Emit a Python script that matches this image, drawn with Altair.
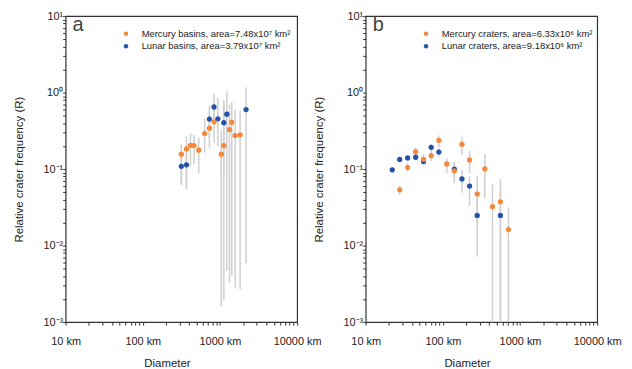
import altair as alt
import pandas as pd

# ---------------- data ----------------
# Panel a: basins
a_merc_d = [316, 368, 415, 462, 531, 634, 730, 838, 1040, 1122, 1329, 1423, 1574, 1824]
a_merc_r = [0.157, 0.184, 0.205, 0.203, 0.177, 0.292, 0.343, 0.416, 0.157, 0.203, 0.329, 0.409, 0.275, 0.281]
a_merc_lo = [0.064, 0.055, 0.11, 0.115, 0.088, 0.165, 0.19, 0.22, 0.0016, 0.0019, 0.0033, 0.004, 0.0028, 0.0027]
a_merc_hi = [0.21, 0.27, 0.29, 0.28, 0.26, 0.46, 0.56, 0.75, 0.33, 0.8, 0.7, 0.75, 0.6, 0.58]

a_lun_d = [316, 368, 730, 838, 939, 1122, 1228, 2178]
a_lun_r = [0.109, 0.114, 0.451, 0.649, 0.455, 0.404, 0.523, 0.6]
a_lun_lo = [0.062, 0.055, 0.25, 0.38, 0.2, 0.08, 0.0047, 0.0059]
a_lun_hi = [0.16, 0.17, 0.68, 0.97, 0.85, 0.72, 1.04, 1.17]

# Panel b: craters
b_merc_d = [27.6, 35, 44.4, 56.2, 70.7, 88.8, 112.5, 141, 177, 222, 279, 350, 440, 557, 707]
b_merc_r = [0.0537, 0.105, 0.169, 0.134, 0.150, 0.238, 0.117, 0.095, 0.211, 0.132, 0.0474, 0.101, 0.0323, 0.0374, 0.0162]
b_merc_lo = [0.047, 0.093, 0.15, 0.115, 0.128, 0.195, 0.089, 0.066, 0.153, 0.089, 0.02, 0.042, 0.0001, 0.0001, 0.0001]
b_merc_hi = [0.061, 0.12, 0.19, 0.155, 0.175, 0.275, 0.138, 0.12, 0.268, 0.172, 0.08, 0.16, 0.064, 0.074, 0.0316]

b_lun_d = [22.1, 27.6, 35, 44.4, 56.2, 70.7, 88.8, 141, 177, 222, 279, 557]
b_lun_r = [0.098, 0.134, 0.14, 0.143, 0.126, 0.193, 0.167, 0.1, 0.0745, 0.06, 0.0248, 0.0248]
b_lun_lo = [0.09, 0.124, 0.128, 0.13, 0.112, 0.17, 0.145, 0.075, 0.049, 0.033, 0.0072, 0.0001]
b_lun_hi = [0.106, 0.145, 0.152, 0.157, 0.14, 0.215, 0.19, 0.125, 0.098, 0.08, 0.042, 0.05]

labels_a = ["Mercury basins, area=7.48x10\u2077 km\u00b2", "Lunar basins, area=3.79x10\u2077 km\u00b2"]
labels_b = ["Mercury craters, area=6.33x10\u2076 km\u00b2", "Lunar craters, area=9.18x10\u2076 km\u00b2"]

# tick positions
x_major = [10, 100, 1000, 10000]
x_minor = [m * 10 ** e for e in (1, 2, 3) for m in range(2, 10)]
y_major = [0.001, 0.01, 0.1, 1.0, 10.0]
y_minor = [m * 10.0 ** e for e in (-3, -2, -1, 0) for m in range(2, 10)]
X_DOMAIN = [10, 10000]
Y_DOMAIN = [0.001, 10.0]

# ---------------- style ----------------
W, H = 233, 308
ORANGE = "#F5883A"
BLUE = "#2352A8"
GRAY = "#CFCFCF"
FONT = "Liberation Sans"
TXT = "#222222"
FRAME = "#333333"
TICK = 3

is_major = "abs(log(datum.value)/LN10 - round(log(datum.value)/LN10)) < 0.001"
x_label_expr = "(" + is_major + ") ? format(datum.value, 'd') + ' km' : ''"
y_label_expr = (
    "!(" + is_major + ") ? '' : "
    "datum.value >= 5 ? '10\u00b9' : datum.value >= 0.5 ? '10\u2070' : "
    "datum.value >= 0.05 ? '10\u207b\u00b9' : datum.value >= 0.005 ? '10\u207b\u00b2' : '10\u207b\u00b3'"
)


def make_df(d, r, lo, hi, name):
    return pd.DataFrame({"D": d, "R": r, "lo": lo, "hi": hi, "series": name})


X_AXIS = alt.Axis(orient="bottom", values=x_major + x_minor, ticks=True, tickSize=TICK,
                  tickColor=FRAME, tickWidth=1, domain=False, grid=False,
                  labelExpr=x_label_expr, labelFlush=False, labelOverlap=False,
                  labelPadding=14 - TICK, labelBaseline="top", labelFontSize=11,
                  title="Diameter", titleX=102, titleY=42, titleAlign="center",
                  titleBaseline="middle", titleFontSize=11.5)
Y_AXIS = alt.Axis(orient="left", values=y_major + y_minor, ticks=True, tickSize=TICK,
                  tickColor=FRAME, tickWidth=1, domain=False, grid=False,
                  labelExpr=y_label_expr, labelOverlap=False,
                  labelPadding=0, labelFontSize=11,
                  title="Relative crater frequency (R)", titleX=-46, titleY=H / 2,
                  titleAngle=270, titleAlign="center", titleBaseline="middle",
                  titleFontSize=11.5)


def panel(df_merc, df_lun, labels, letter):
    xs = alt.Scale(type="log", domain=X_DOMAIN, nice=False)
    ys = alt.Scale(type="log", domain=Y_DOMAIN, nice=False)
    legend = alt.Legend(orient="none", legendX=56, legendY=13, title=None,
                        symbolType="circle", symbolSize=20, symbolStrokeWidth=0,
                        labelFontSize=9.5, labelFont=FONT, labelColor=TXT,
                        labelOffset=11, rowPadding=1.5, padding=0)
    color = alt.Color("series:N", scale=alt.Scale(domain=labels, range=[ORANGE, BLUE]),
                      legend=legend)

    rules_df = pd.concat([df_lun, df_merc], ignore_index=True)
    rules = alt.Chart(rules_df).mark_rule(color=GRAY, strokeWidth=1.5, clip=True).encode(
        x=alt.X("D:Q", scale=xs, axis=X_AXIS),
        y=alt.Y("lo:Q", scale=ys, axis=Y_AXIS),
        y2="hi:Q",
    )
    lunar = alt.Chart(df_lun).mark_circle(size=28, opacity=1).encode(
        x=alt.X("D:Q", scale=xs, axis=X_AXIS),
        y=alt.Y("R:Q", scale=ys, axis=Y_AXIS),
        color=color,
    )
    merc = alt.Chart(df_merc).mark_circle(size=28, opacity=1).encode(
        x=alt.X("D:Q", scale=xs, axis=X_AXIS),
        y=alt.Y("R:Q", scale=ys, axis=Y_AXIS),
        color=color,
    )
    letter_layer = alt.Chart(pd.DataFrame({"letter": [letter]})).mark_text(
        font=FONT, fontSize=20, color="#444444", align="left", baseline="alphabetic"
    ).encode(x=alt.value(7), y=alt.value(15), text="letter:N")

    return alt.layer(rules, lunar, merc, letter_layer).properties(width=W, height=H)


pa = panel(make_df(a_merc_d, a_merc_r, a_merc_lo, a_merc_hi, labels_a[0]),
           make_df(a_lun_d, a_lun_r, a_lun_lo, a_lun_hi, labels_a[1]), labels_a, "a")
pb = panel(make_df(b_merc_d, b_merc_r, b_merc_lo, b_merc_hi, labels_b[0]),
           make_df(b_lun_d, b_lun_r, b_lun_lo, b_lun_hi, labels_b[1]), labels_b, "b")

chart = alt.hconcat(pa, pb, spacing=69, bounds="flush").resolve_scale(
    color="independent"
).properties(
    padding={"left": 5, "top": 0, "right": 2, "bottom": 0}
).configure_view(stroke=FRAME, strokeWidth=1.2).configure_axis(
    labelFont=FONT, titleFont=FONT, labelColor=TXT, titleColor=TXT,
    titleFontWeight="normal"
)

chart.save("out.html", embed_options={"renderer": "svg", "actions": False})
